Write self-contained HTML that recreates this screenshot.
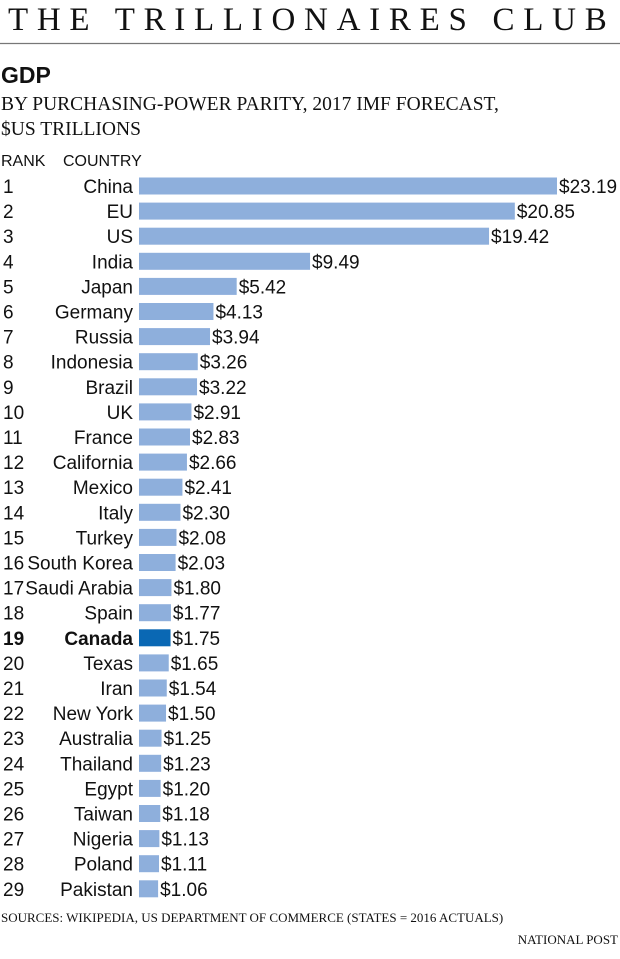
<!DOCTYPE html>
<html><head><meta charset="utf-8"><style>
body{margin:0;background:#fff;width:620px;height:954px;overflow:hidden}
svg text{fill:#111}
.n{font-family:"Liberation Sans Narrow","Liberation Sans",sans-serif}
.s{font-family:"Liberation Serif",serif}
</style></head><body>
<svg id="c" width="620" height="954" xmlns="http://www.w3.org/2000/svg">
<text class="s" x="8" y="30" font-size="33" letter-spacing="3.3" textLength="602">THE TRILLIONAIRES CLUB</text>
<line x1="0" y1="43.5" x2="620" y2="43.5" stroke="#777" stroke-width="1.2"/>
<text class="n" x="1" y="83" font-size="23" font-weight="bold">GDP</text>
<text class="s" x="1" y="110" font-size="19.5">BY PURCHASING-POWER PARITY, 2017 IMF FORECAST,</text>
<text class="s" x="1" y="135" font-size="19.5">$US TRILLIONS</text>
<text class="n" x="1" y="166" font-size="16">RANK</text>
<text class="n" x="63" y="166" font-size="16">COUNTRY</text>
<g id="rows"></g>
<text class="s" x="1" y="922" font-size="13">SOURCES: WIKIPEDIA, US DEPARTMENT OF COMMERCE (STATES = 2016 ACTUALS)</text>
<text class="s" x="618" y="944" font-size="13" text-anchor="end">NATIONAL POST</text>
</svg>
<script>
const countries=["China","EU","US","India","Japan","Germany","Russia","Indonesia","Brazil","UK","France","California","Mexico","Italy","Turkey","South Korea","Saudi Arabia","Spain","Canada","Texas","Iran","New York","Australia","Thailand","Egypt","Taiwan","Nigeria","Poland","Pakistan"];
const values=[23.19,20.85,19.42,9.49,5.42,4.13,3.94,3.26,3.22,2.91,2.83,2.66,2.41,2.30,2.08,2.03,1.80,1.77,1.75,1.65,1.54,1.50,1.25,1.23,1.20,1.18,1.13,1.11,1.06];
const highlight="Canada";
const x0=139, xMax=557;
const maxV=Math.max(...values);
const xs=v=>x0+(xMax-x0)*v/maxV;
const y0=186, step=25.1;
const ys=i=>y0+i*step;
const g=document.getElementById('rows');
const NS="http://www.w3.org/2000/svg";
countries.forEach((c,i)=>{
  const y=ys(i), hl=c===highlight;
  const r=document.createElementNS(NS,'text');
  r.setAttribute('class','n');r.setAttribute('x',3);r.setAttribute('y',y+7);r.setAttribute('font-size',19);
  if(hl)r.setAttribute('font-weight','bold');
  r.textContent=i+1;
  
  
  g.appendChild(r);
  const t=document.createElementNS(NS,'text');
  t.setAttribute('class','n');t.setAttribute('x',133);t.setAttribute('y',y+7);t.setAttribute('font-size',19);t.setAttribute('text-anchor','end');
  if(hl)t.setAttribute('font-weight','bold');
  t.textContent=c;
  
  
  g.appendChild(t);
  const b=document.createElementNS(NS,'rect');
  b.setAttribute('x',x0);b.setAttribute('y',y-8.5);b.setAttribute('width',xs(values[i])-x0);b.setAttribute('height',17);
  b.setAttribute('fill',hl?'#0a68b4':'#8eafdc');
  
  
  g.appendChild(b);
  const v=document.createElementNS(NS,'text');
  v.setAttribute('class','n');v.setAttribute('x',xs(values[i])+2);v.setAttribute('y',y+7);v.setAttribute('font-size',19);
  v.textContent='$'+values[i].toFixed(2);
  
  
  g.appendChild(v);
});
</script>
</body></html>
